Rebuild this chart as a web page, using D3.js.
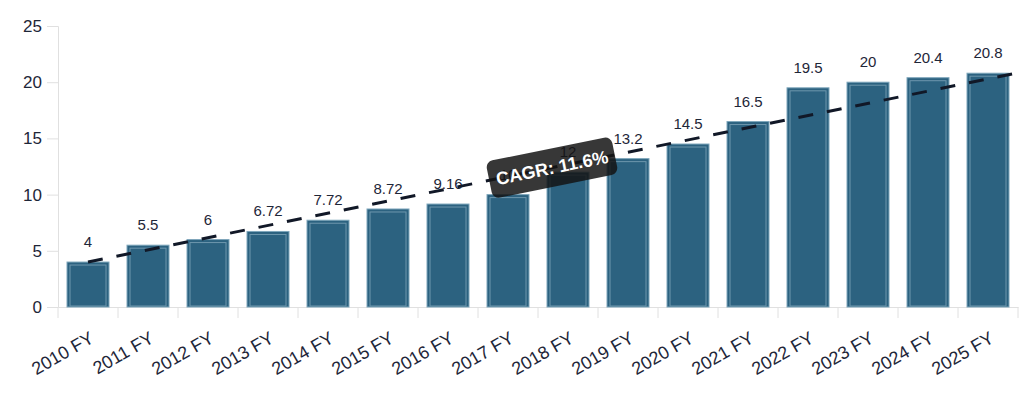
<!DOCTYPE html>
<html><head><meta charset="utf-8">
<script src="https://cdn.jsdelivr.net/npm/d3@7"></script>
<style>body{margin:0;background:#fff;}svg{display:block;font-family:"Liberation Sans",Arial,sans-serif;}</style>
</head><body>
<svg id="c" width="1034" height="408"></svg>
<script>
const categories = ["2010 FY","2011 FY","2012 FY","2013 FY","2014 FY","2015 FY","2016 FY","2017 FY","2018 FY","2019 FY","2020 FY","2021 FY","2022 FY","2023 FY","2024 FY","2025 FY"];
const values = [4,5.5,6,6.72,7.72,8.72,9.16,10,12,13.2,14.5,16.5,19.5,20,20.4,20.8];
const yTicks = [0,5,10,15,20,25];
const cagrLabel = "CAGR: 11.6%";

const svg = d3.select("#c");
const m = {l:58, r:16, t:26, b:101};
const W = 1034, H = 408;
const x = d3.scaleBand().domain(categories).range([m.l, W - m.r]).paddingInner(0.3).paddingOuter(0.15);
const y = d3.scaleLinear().domain([0,25]).range([H - m.b, m.t]);
const txt = "#1e2638";

// y axis
const ya = svg.append("g").attr("transform",`translate(${m.l},0)`)
  .call(d3.axisLeft(y).tickValues(yTicks).tickSize(11).tickPadding(5));
ya.select(".domain").attr("stroke","#e0e0e0");
ya.selectAll(".tick line").attr("stroke","#e0e0e0");
ya.selectAll("text").attr("font-size",17).attr("fill",txt).attr("font-family","Liberation Sans, Arial, sans-serif");

// x axis
const xa = svg.append("g").attr("transform",`translate(0,${y(0)})`)
  .call(d3.axisBottom(x).tickSize(0).tickPadding(0));
xa.select(".domain").attr("stroke","#e0e0e0");
// separators at band boundaries
const step = x.step();
const edges = d3.range(categories.length + 1).map(i => m.l + i * (W - m.r - m.l) / categories.length);
svg.append("g").selectAll("line").data(edges).join("line")
  .attr("x1",d=>d).attr("x2",d=>d)
  .attr("y1",y(0)).attr("y2",y(0)+11).attr("stroke","#e0e0e0");
xa.selectAll(".tick text")
  .attr("font-size",18).attr("fill",txt).attr("font-family","Liberation Sans, Arial, sans-serif")
  .attr("text-anchor","end")
  .attr("transform","translate(4,29) rotate(-30)")
  .attr("dy","0.35em");

// bars
const bars = svg.append("g");
bars.selectAll("rect.b").data(values).join("rect").attr("class","b")
  .attr("x",(d,i)=>x(categories[i])).attr("width",x.bandwidth())
  .attr("y",d=>y(d)).attr("height",d=>y(0)-y(d))
  .attr("fill","#2c6280").attr("stroke","#7ea6bb").attr("stroke-width",1);
bars.selectAll("rect.i").data(values).join("rect").attr("class","i")
  .attr("x",(d,i)=>x(categories[i])+3).attr("width",x.bandwidth()-6)
  .attr("y",d=>y(d)+3).attr("height",d=>Math.max(0,y(0)-y(d)-4))
  .attr("fill","none").attr("stroke","#6e97ad").attr("stroke-width",1);

// value labels
svg.append("g").selectAll("text").data(values).join("text")
  .attr("x",(d,i)=>x(categories[i])+x.bandwidth()/2)
  .attr("y",d=>y(d)-15)
  .attr("text-anchor","middle").attr("font-size",15).attr("fill",txt)
  .text(d=>d);

// trend line
const x0 = x(categories[0]) + x.bandwidth()/2;
const x1 = W - m.r - 2;
const p0 = [x0, y(values[0])], p1 = [x1, y(values[values.length-1])];
svg.append("line").attr("x1",p0[0]).attr("y1",p0[1]).attr("x2",p1[0]).attr("y2",p1[1])
  .attr("stroke","#111827").attr("stroke-width",3).attr("stroke-dasharray","15,14");

// CAGR label
const ang = Math.atan2(p1[1]-p0[1], p1[0]-p0[0]) * 180/Math.PI;
const cx = (p0[0]+p1[0])/2, cy = (p0[1]+p1[1])/2;
const lg = svg.append("g").attr("transform",`translate(${cx},${cy}) rotate(${ang})`);
lg.append("rect").attr("x",-64).attr("y",-19).attr("width",128).attr("height",38).attr("rx",7)
  .attr("fill","rgba(20,20,20,0.85)");
lg.append("text").attr("text-anchor","middle").attr("dy","0.35em").attr("font-size",18)
  .attr("font-weight","bold").attr("fill","#fff").text(cagrLabel);
</script>
</body></html>
